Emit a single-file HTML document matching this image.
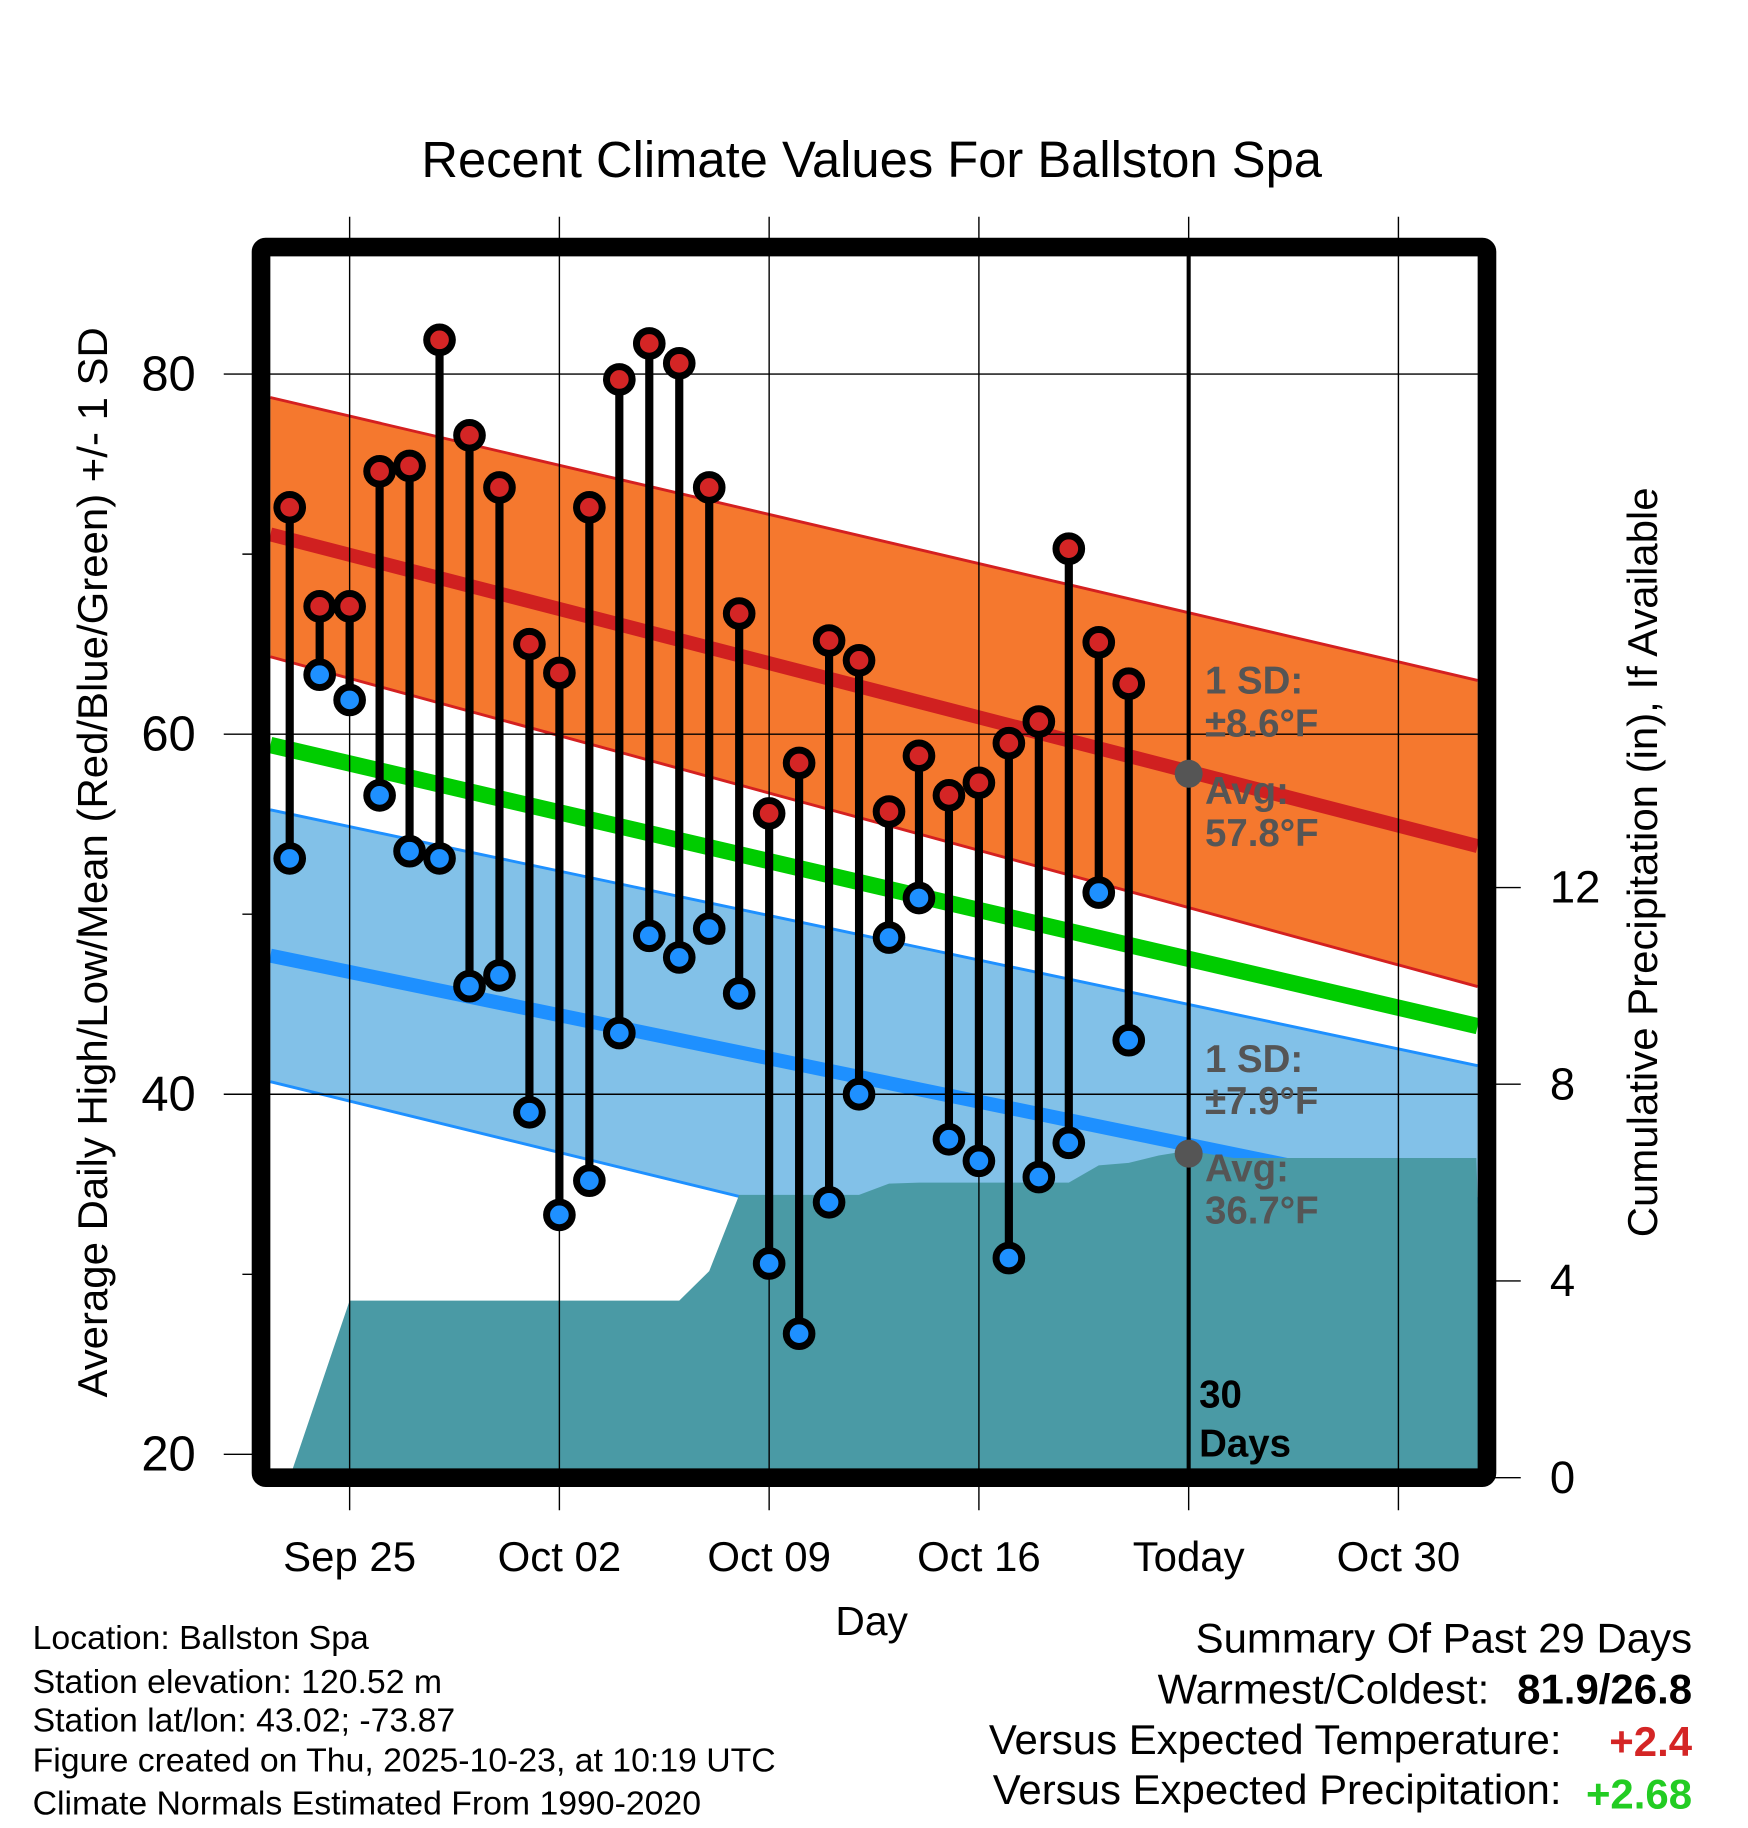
<!DOCTYPE html>
<html><head><meta charset="utf-8"><style>
html,body{margin:0;padding:0;background:#fff;}
svg{display:block;font-family:"Liberation Sans",Arial,sans-serif;}
</style></head><body>
<svg id="chart" width="1748" height="1828" viewBox="0 0 1500 1568.65" xmlns="http://www.w3.org/2000/svg">
<g id="bands"></g>
<g id="grid"></g>
<g id="marks"></g>
<g id="overlay"></g>
</svg>
<script>
// ---- data ----
const days = ["Sep 23","Sep 24","Sep 25","Sep 26","Sep 27","Sep 28","Sep 29","Sep 30","Oct 01","Oct 02","Oct 03","Oct 04","Oct 05","Oct 06","Oct 07","Oct 08","Oct 09","Oct 10","Oct 11","Oct 12","Oct 13","Oct 14","Oct 15","Oct 16","Oct 17","Oct 18","Oct 19","Oct 20","Oct 21"];
const highs = [72.6,67.1,67.1,74.6,74.9,81.9,76.6,73.7,65.0,63.4,72.6,79.7,81.7,80.6,73.7,66.7,55.6,58.4,65.2,64.1,55.7,58.8,56.6,57.3,59.5,60.7,70.3,65.1,62.8];
const lows = [53.1,63.3,61.9,56.6,53.5,53.1,46.0,46.6,39.0,33.3,35.2,43.4,48.8,47.6,49.2,45.6,30.6,26.7,34.0,40.0,48.7,50.9,37.5,36.3,30.9,35.4,37.3,51.2,43.0];
const precipDays = [0,1,2,3,4,5,6,7,8,9,10,11,12,13,14,15,16,17,18,19,20,21,22,23,24,25,26,27,28,29,30,31.5,39.6];
const precipVals = [0,1.8,3.6,3.6,3.6,3.6,3.6,3.6,3.6,3.6,3.6,3.6,3.6,3.6,4.2,5.75,5.75,5.75,5.75,5.75,5.98,6.0,6.0,6.0,6.0,6.0,6.0,6.35,6.4,6.55,6.65,6.5,6.5];
const todayIndex = 30;
const todayHighAvg = 57.8;
const todayLowAvg = 36.7;
const normalEnds = [-0.65, 39.6];
const hiMean = [71.1, 53.8];
const hiUpper = [78.7, 63.0];
const hiLower = [64.3, 46.0];
const meanLine = [59.4, 43.8];
const loMean = [47.7, 33.9];
const loUpper = [55.8, 41.6];
const loLower = [40.7, 24.3];
const xTickDays = [2,9,16,23,30,37];
const xTickLabels = ["Sep 25","Oct 02","Oct 09","Oct 16","Today","Oct 30"];
const yTicks = [80,60,40,20];
const yMinor = [70,50,30];
const pTicks = [0,4,8,12];

// ---- axes ----
const X0 = 248.6, DX = 25.714;
const x = d => X0 + d*DX;
const y = t => 321 + (80 - t)*15.45;
const yp = p => 1268 - p*42.2;
const L = 224, R = 1276, T = 212, B = 1268;
const NS = "http://www.w3.org/2000/svg";
function mk(tag, attrs, parent, txt){
  const e = document.createElementNS(NS, tag);
  for (const k in attrs) e.setAttribute(k, attrs[k]);
  if (txt !== undefined) e.textContent = txt;
  document.getElementById(parent).appendChild(e);
  return e;
}
const xe0 = Math.max(L+8, x(normalEnds[0])), xe1 = R-8;
function lerpY(arr, xx){ const t=(xx - x(normalEnds[0]))/(x(normalEnds[1])-x(normalEnds[0])); return y(arr[0] + (arr[1]-arr[0])*t); }
function bandPath(up, lo){
  return `M${xe0},${lerpY(up,xe0)} L${xe1},${lerpY(up,xe1)} L${xe1},${lerpY(lo,xe1)} L${xe0},${lerpY(lo,xe0)} Z`;
}
function linePath(a){ return `M${xe0},${lerpY(a,xe0)} L${xe1},${lerpY(a,xe1)}`; }

let e;
e = mk('path',{d:bandPath(hiUpper,hiLower),fill:'#f5782e',stroke:'none'},'bands');
 
e = mk('path',{d:linePath(hiUpper),stroke:'#d42020','stroke-width':2.5,fill:'none'},'bands');
 
e = mk('path',{d:linePath(hiLower),stroke:'#d42020','stroke-width':2.5,fill:'none'},'bands');
 
e = mk('path',{d:linePath(hiMean),stroke:'#d02020','stroke-width':12,fill:'none'},'bands');
 
e = mk('path',{d:bandPath(loUpper,loLower),fill:'#82c1e8',stroke:'none'},'bands');
 
e = mk('path',{d:linePath(loUpper),stroke:'#1e90ff','stroke-width':2.5,fill:'none'},'bands');
 
e = mk('path',{d:linePath(loLower),stroke:'#1e90ff','stroke-width':2.5,fill:'none'},'bands');
 
e = mk('path',{d:linePath(loMean),stroke:'#1e90ff','stroke-width':12,fill:'none'},'bands');
 
e = mk('path',{d:linePath(meanLine),stroke:'#00cc00','stroke-width':14,fill:'none'},'bands');
 

let pd = `M${x(precipDays[0])+4},${B}`;
precipDays.forEach((d,i)=>{ const xx=Math.min(R, x(d)); pd += ` L${xx},${yp(precipVals[i])}`; });
pd += ` L${R},${B} Z`;
e = mk('path',{d:pd,fill:'#4a9aa5',stroke:'none'},'bands');
 

xTickDays.forEach((d,i)=>{
  e = mk('line',{x1:x(d),x2:x(d),y1:186,y2:1296,stroke:'#000','stroke-width':1.2},'grid');
   
  e = mk('text',{x:x(d),y:1348,'font-size':36,'text-anchor':'middle',fill:'#000'},'grid',xTickLabels[i]);
   
});
yTicks.forEach(t=>{
  e = mk('line',{x1:192,x2:(t===20?L:R),y1:y(t),y2:y(t),stroke:'#000','stroke-width':1.2},'grid');
   
  e = mk('text',{x:168,y:y(t)+14,'font-size':42,'text-anchor':'end',fill:'#000'},'grid',String(t));
   
});
yMinor.forEach(t=>{
  e = mk('line',{x1:208,x2:L,y1:y(t),y2:y(t),stroke:'#000','stroke-width':1.2},'grid');
   
});
pTicks.forEach(p=>{
  e = mk('line',{x1:R,x2:1305,y1:yp(p),y2:yp(p),stroke:'#000','stroke-width':1.2},'grid');
   
  e = mk('text',{x:1330,y:yp(p)+13,'font-size':39,'text-anchor':'start',fill:'#000'},'grid',String(p));
   
});

e = mk('line',{x1:x(todayIndex),x2:x(todayIndex),y1:T,y2:B,stroke:'#000','stroke-width':3.5},'grid');
 

days.forEach((dname,i)=>{
  e = mk('line',{x1:x(i),x2:x(i),y1:y(highs[i]),y2:y(lows[i]),stroke:'#000','stroke-width':7},'marks');
   
});
days.forEach((dname,i)=>{
  e = mk('circle',{cx:x(i),cy:y(highs[i]),r:11,fill:'#d42525',stroke:'#000','stroke-width':6},'marks');
   
  e = mk('circle',{cx:x(i),cy:y(lows[i]),r:11,fill:'#1e90ff',stroke:'#000','stroke-width':6},'marks');
   
});

e = mk('circle',{cx:x(todayIndex),cy:y(todayHighAvg),r:12,fill:'#555'},'marks');
 
e = mk('circle',{cx:x(todayIndex),cy:y(todayLowAvg),r:12,fill:'#555'},'marks');
 

e = mk('rect',{x:L,y:T,width:R-L,height:B-T,rx:4,fill:'none',stroke:'#000','stroke-width':16},'overlay');
 

const ann = [["1 SD:",595,'#555'],["±8.6°F",632,'#555'],["Avg:",690,'#555'],["57.8°F",726,'#555'],
             ["1 SD:",920,'#555'],["±7.9°F",956,'#555'],["Avg:",1014,'#555'],["36.7°F",1050,'#555'],
             ["30",1208,'#000'],["Days",1250,'#000']];
ann.forEach(a=>{
  e = mk('text',{x:(a[0]==="30"||a[0]==="Days")?1029:1034,y:a[1],'font-size':33,'font-weight':'bold',fill:a[2]},'overlay',a[0]);
   
});
</script>
<svg style="position:absolute;left:0;top:0" width="1748" height="1828" viewBox="0 0 1500 1568.65" xmlns="http://www.w3.org/2000/svg" font-family="Liberation Sans, Arial, sans-serif">
<text x="748" y="152" font-size="43.5" text-anchor="middle">Recent Climate Values For Ballston Spa</text>
<text x="748" y="1403" font-size="35" text-anchor="middle">Day</text>
<text transform="translate(92,740) rotate(-90)" font-size="36" text-anchor="middle">Average Daily High/Low/Mean (Red/Blue/Green) +/- 1 SD</text>
<text transform="translate(1422,740) rotate(-90)" font-size="36" text-anchor="middle">Cumulative Precipitation (in), If Available</text>
<g font-size="29">
<text x="28" y="1415">Location: Ballston Spa</text>
<text x="28" y="1453">Station elevation: 120.52 m</text>
<text x="28" y="1486">Station lat/lon: 43.02; -73.87</text>
<text x="28" y="1520">Figure created on Thu, 2025-10-23, at 10:19 UTC</text>
<text x="28" y="1557">Climate Normals Estimated From 1990-2020</text>
</g>
<g font-size="36">
<text x="1452" y="1418" text-anchor="end">Summary Of Past 29 Days</text>
<text x="1278" y="1462" text-anchor="end">Warmest/Coldest:</text>
<text x="1452" y="1462" text-anchor="end" font-weight="bold">81.9/26.8</text>
<text x="1340" y="1505" text-anchor="end">Versus Expected Temperature:</text>
<text x="1452" y="1507" text-anchor="end" font-weight="bold" fill="#d42525">+2.4</text>
<text x="1340" y="1548" text-anchor="end">Versus Expected Precipitation:</text>
<text x="1452" y="1552" text-anchor="end" font-weight="bold" fill="#22cc22">+2.68</text>
</g>
</svg>
</body></html>
